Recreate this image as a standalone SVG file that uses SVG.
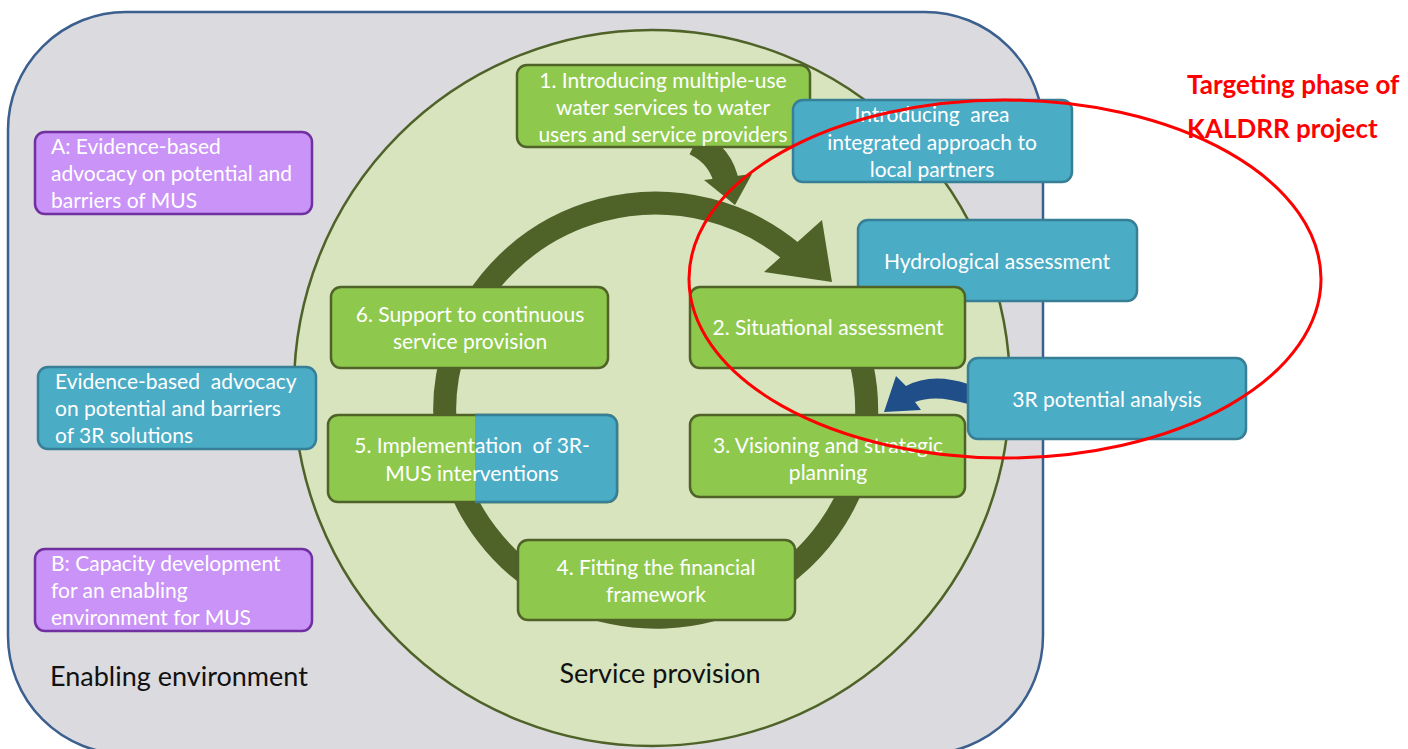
<svg xmlns="http://www.w3.org/2000/svg" width="1408" height="749" viewBox="0 0 1408 749">
<style>
.g{fill:#8ec94e;stroke:#4f6228;stroke-width:2.5}
.b{fill:#4bacc6;stroke:#367f96;stroke-width:2.5}
.p{fill:#c993f7;stroke:#7030a0;stroke-width:2.5}
text{white-space:pre}
.t{font-family:Lato,"Open Sans",sans-serif;font-size:21px;fill:#ffffff}
.c{text-anchor:middle}
.k{font-family:Lato,"Open Sans",sans-serif;font-size:27px;fill:#111111}
.r{font-family:Lato,"Open Sans",sans-serif;font-size:26px;font-weight:bold;fill:#ff0000}
</style>
<rect width="1408" height="749" fill="#ffffff"/>
<g id="enabling-environment">
<rect x="8" y="12" width="1035" height="742" rx="118" fill="#dadadf" stroke="#3b5f8e" stroke-width="2.5"/>
<text class="k" x="50" y="686">Enabling environment</text>
</g>
<g id="service-provision">
<circle cx="652" cy="388" r="358" fill="#d7e4bd" stroke="#4f6228" stroke-width="2.5"/>
<text class="k c" x="660" y="683">Service provision</text>
</g>
<g id="connectors">
<path d="M848,325 A211,207 0 1 1 793,253" fill="none" stroke="#4f6228" stroke-width="23"/>
<polygon points="822,220 832,282 764,272" fill="#4f6228"/>
<path d="M695,143 Q722,156 727,185" fill="none" stroke="#4f6228" stroke-width="25"/>
<polygon points="704,180 752,174 735,205" fill="#4f6228"/>
<path d="M896,376 L884,412 L921,410 L915,402 Q935,394 968,404 L968,384 Q932,372 906,386 Z" fill="#1f4e89"/>
</g>
<g id="step1">
<rect class="g" x="517" y="65" width="293" height="82" rx="10"/>
<text class="t c" x="663" y="88">1. Introducing multiple-use</text>
<text class="t c" x="663" y="115">water services to water</text>
<text class="t c" x="663" y="142">users and service providers</text>
</g>
<g id="introducing-area">
<rect class="b" x="793" y="100" width="279" height="82" rx="10"/>
<text class="t c" x="932" y="122">Introducing  area</text>
<text class="t c" x="932" y="150">integrated approach to</text>
<text class="t c" x="932" y="177">local partners</text>
</g>
<g id="hydrological">
<rect class="b" x="858" y="220" width="279" height="81" rx="10"/>
<text class="t c" x="997" y="269">Hydrological assessment</text>
</g>
<g id="step2">
<rect class="g" x="690" y="287" width="275" height="81" rx="10"/>
<text class="t c" x="828" y="335">2. Situational assessment</text>
</g>
<g id="potential-3r">
<rect class="b" x="968" y="358" width="278" height="81" rx="10"/>
<text class="t c" x="1107" y="407">3R potential analysis</text>
</g>
<g id="step3">
<rect class="g" x="690" y="415" width="275" height="82" rx="10"/>
<text class="t c" x="828" y="453">3. Visioning and strategic</text>
<text class="t c" x="828" y="480">planning</text>
</g>
<g id="step4">
<rect class="g" x="518" y="540" width="277" height="80" rx="10"/>
<text class="t c" x="656" y="575">4. Fitting the financial</text>
<text class="t c" x="656" y="602">framework</text>
</g>
<g id="step5">
<rect class="g" x="328" y="415" width="289" height="87" rx="10"/>
<path d="M475,415 H607 A10,10 0 0 1 617,425 V492 A10,10 0 0 1 607,502 H475 Z" fill="#4bacc6"/>
<path d="M475,415 H607 A10,10 0 0 1 617,425 V492 A10,10 0 0 1 607,502 H475" fill="none" stroke="#367f96" stroke-width="2.5"/>
<text class="t c" x="472" y="453">5. Implementation  of 3R-</text>
<text class="t c" x="472" y="481">MUS interventions</text>
</g>
<g id="step6">
<rect class="g" x="331" y="287" width="277" height="81" rx="10"/>
<text class="t c" x="470" y="322">6. Support to continuous</text>
<text class="t c" x="470" y="349">service provision</text>
</g>
<g id="box-a">
<rect class="p" x="35" y="132" width="277" height="82" rx="10"/>
<text class="t" x="51" y="154">A: Evidence-based</text>
<text class="t" x="51" y="181">advocacy on potential and</text>
<text class="t" x="51" y="208">barriers of MUS</text>
</g>
<g id="advocacy-3r">
<rect class="b" x="38" y="367" width="278" height="82" rx="10"/>
<text class="t" x="55" y="389">Evidence-based  advocacy</text>
<text class="t" x="55" y="416">on potential and barriers</text>
<text class="t" x="55" y="443">of 3R solutions</text>
</g>
<g id="box-b">
<rect class="p" x="35" y="549" width="277" height="82" rx="10"/>
<text class="t" x="51" y="571">B: Capacity development</text>
<text class="t" x="51" y="598">for an enabling</text>
<text class="t" x="51" y="625">environment for MUS</text>
</g>
<g id="targeting-phase">
<ellipse cx="1005" cy="279" rx="316" ry="179" fill="none" stroke="#ff0000" stroke-width="3"/>
<text class="r" x="1187" y="94">Targeting phase of</text>
<text class="r" x="1187" y="138">KALDRR project</text>
</g>
</svg>
